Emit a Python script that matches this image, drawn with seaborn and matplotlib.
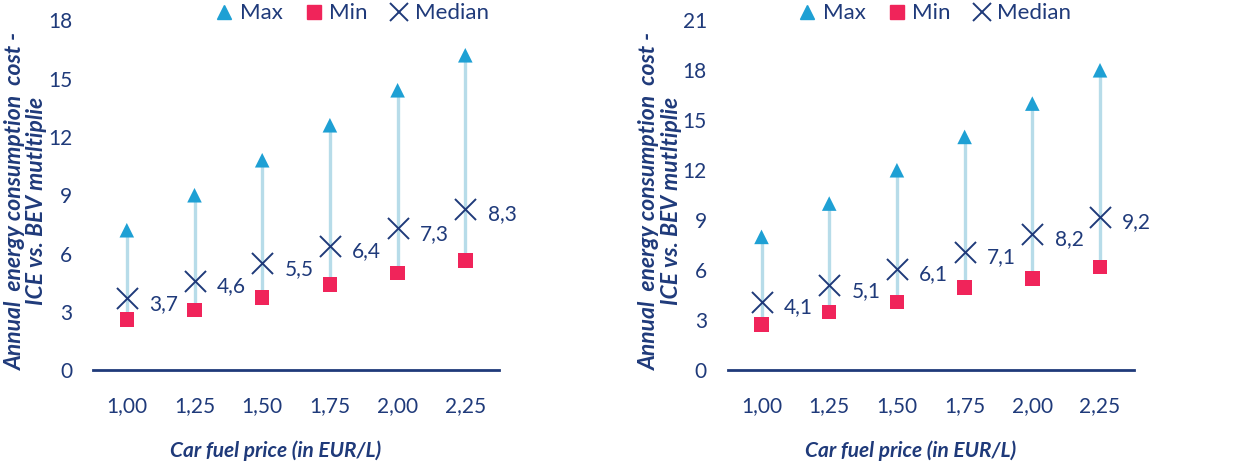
import numpy as np
import pandas as pd
import matplotlib
matplotlib.use("Agg")
import matplotlib.pyplot as plt
from matplotlib.lines import Line2D
import seaborn as sns

# data
prices = ["1,00", "1,25", "1,50", "1,75", "2,00", "2,25"]

left_max = [7.2, 9.0, 10.8, 12.6, 14.4, 16.2]
left_min = [2.6, 3.1, 3.75, 4.4, 5.0, 5.65]
left_median = [3.7, 4.6, 5.5, 6.4, 7.3, 8.3]

right_max = [8.0, 10.0, 12.0, 14.0, 16.0, 18.0]
right_min = [2.75, 3.5, 4.1, 4.95, 5.5, 6.2]
right_median = [4.1, 5.1, 6.1, 7.1, 8.2, 9.2]

NAVY = "#1f3a7a"
BLUE = "#1ea0d4"
PINK = "#f0245a"
LINE = "#b7dce9"

sns.set_style("white")
plt.rcParams["font.family"] = ["Lato", "DejaVu Sans"]


def make_frame(mx, mn, md):
    rows = []
    for p, a, b, c in zip(prices, mx, mn, md):
        rows.append({"price": p, "series": "Max", "value": a})
        rows.append({"price": p, "series": "Min", "value": b})
        rows.append({"price": p, "series": "Median", "value": c})
    return pd.DataFrame(rows)


def draw_panel(ax, mx, mn, md, ymax, legend_x):
    df = make_frame(mx, mn, md)
    pos = np.arange(len(prices))
    ax.vlines(pos, mn, mx, color=LINE, lw=2.4, zorder=1)
    sns.scatterplot(data=df[df.series == "Max"], x="price", y="value", ax=ax,
                    marker="^", s=110, color=BLUE, edgecolor="none", zorder=3, legend=False)
    sns.scatterplot(data=df[df.series == "Min"], x="price", y="value", ax=ax,
                    marker="s", s=110, color=PINK, edgecolor="none", zorder=3, legend=False)
    sns.scatterplot(data=df[df.series == "Median"], x="price", y="value", ax=ax,
                    marker="x", s=230, color=NAVY, linewidth=1.4, zorder=4, legend=False)
    for i, v in enumerate(md):
        ax.annotate(f"{v:.1f}".replace(".", ","), (i, v), xytext=(16, -4),
                    textcoords="offset points", va="center", ha="left",
                    fontsize=15, color=NAVY)

    ax.set_xlim(-0.5, len(prices) - 0.5)
    ax.set_ylim(0, ymax)
    ax.set_yticks(np.arange(0, ymax + 1, 3))
    ax.tick_params(axis="both", length=0, labelsize=15, labelcolor=NAVY)
    ax.tick_params(axis="x", pad=19)
    ax.tick_params(axis="y", pad=15)
    for s in ["top", "right", "left"]:
        ax.spines[s].set_visible(False)
    ax.spines["bottom"].set_color(NAVY)
    ax.spines["bottom"].set_linewidth(2)

    ax.set_xlabel("Car fuel price (in EUR/L)", fontsize=15, fontweight="bold",
                  fontstyle="italic", color=NAVY)
    ax.xaxis.set_label_coords(0.45, -0.2)
    ax.set_ylabel("Annual  energy consumption  cost -\nICE vs. BEV mutltiplie",
                  fontsize=16.5, fontweight="bold", fontstyle="italic", color=NAVY,
                  linespacing=1.05)
    ax.yaxis.set_label_coords(-0.112, 0.485)

    handles = [
        Line2D([], [], marker="^", color=BLUE, linestyle="none", markersize=10),
        Line2D([], [], marker="s", color=PINK, linestyle="none", markersize=10),
        Line2D([], [], marker="x", color=NAVY, linestyle="none", markersize=13, markeredgewidth=1.4),
    ]
    leg = ax.legend(handles, ["Max", "Min", "Median"], loc="center", ncol=3,
                    bbox_to_anchor=(legend_x, 1.02), frameon=False, fontsize=16,
                    handletextpad=0.2, columnspacing=0.9, handlelength=1.0)
    for t in leg.get_texts():
        t.set_color(NAVY)


fig = plt.figure(figsize=(12.46, 4.61), dpi=100)
ax1 = fig.add_axes([0.0746, 0.197, 0.326, 0.759])
ax2 = fig.add_axes([0.584, 0.197, 0.326, 0.759])

draw_panel(ax1, left_max, left_min, left_median, 18, 0.635)
draw_panel(ax2, right_max, right_min, right_median, 21, 0.507)

fig.savefig("out.png", dpi=100)
